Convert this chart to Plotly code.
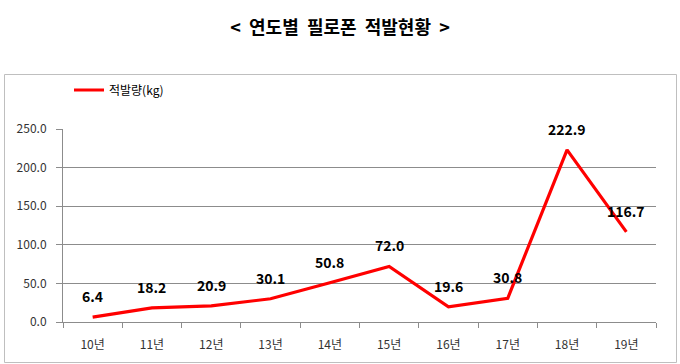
import plotly.graph_objects as go

categories = ["10년", "11년", "12년", "13년", "14년", "15년", "16년", "17년", "18년", "19년"]
values = [6.4, 18.2, 20.9, 30.1, 50.8, 72.0, 19.6, 30.8, 222.9, 116.7]
series_name = "적발량(kg)"
title = "<  연도별  필로폰  적발현황  >"

W, H = 680, 364
L, R, T, B = 63, 24, 129, 42
pw, ph = W - L - R, H - T - B

font = "Noto Sans CJK KR, Noto Sans, sans-serif"

fig = go.Figure()
fig.add_trace(go.Scatter(
    x=categories, y=values, mode="lines", name=series_name,
    line=dict(color="#ff0000", width=3.2),
))

for c, v in zip(categories, values):
    fig.add_annotation(x=c, y=v, text=f"<b>{v:.1f}</b>", showarrow=False,
                       yshift=21,
                       font=dict(family=font, size=14, color="#000000"))

def px_x(p):
    return (p - L) / pw

def px_y(p):
    return (H - B - p) / ph

fig.add_shape(type="rect", xref="paper", yref="paper",
              x0=px_x(4.5), x1=px_x(676.5), y0=px_y(362.5), y1=px_y(74.5),
              line=dict(color="#bfbfbf", width=1), layer="below")

fig.update_layout(
    width=W, height=H,
    margin=dict(l=L, r=R, t=T, b=B),
    paper_bgcolor="white", plot_bgcolor="white",
    title=dict(text=f"<b>{title}</b>", x=0.5, xref="container", xanchor="center",
               y=1 - 28 / H, yanchor="middle",
               font=dict(family=font, size=18, color="#000000")),
    showlegend=True,
    legend=dict(x=px_x(69), y=px_y(90), xanchor="left", yanchor="middle",
                orientation="h", bgcolor="rgba(0,0,0,0)",
                font=dict(family=font, size=12, color="#000000"),
                itemwidth=30),
    xaxis=dict(type="category", range=[-0.5, 9.5], showline=True,
               linecolor="#8c8c8c", linewidth=1, ticks="outside",
               tickson="boundaries", ticklen=5, tickcolor="#8c8c8c",
               showgrid=False, ticklabelstandoff=12,
               tickfont=dict(family=font, size=12, color="#333333")),
    yaxis=dict(range=[0, 250], dtick=50, tickformat=".1f", showline=True,
               linecolor="#8c8c8c", linewidth=1, ticks="outside", ticklen=6,
               tickcolor="#8c8c8c", showgrid=True, gridcolor="#8c8c8c",
               gridwidth=1, zeroline=False, ticklabelstandoff=7,
               tickfont=dict(family=font, size=12, color="#333333")),
)

fig.write_html("out.html", config={"displayModeBar": False},
               post_script="document.body.style.margin='0';")
